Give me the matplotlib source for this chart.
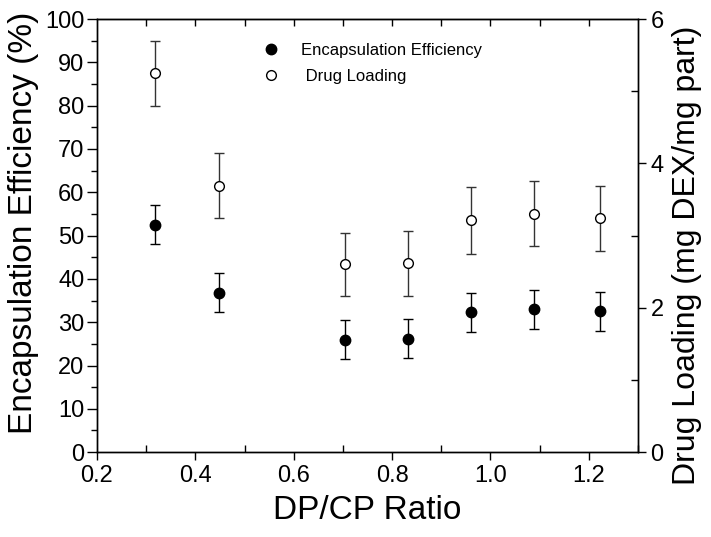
import numpy as np
import matplotlib
matplotlib.use('Agg')
import matplotlib.pyplot as plt
from matplotlib.lines import Line2D
from matplotlib.ticker import MultipleLocator

plt.rcParams['font.family'] = ['Liberation Sans', 'DejaVu Sans']

# datos
ratio = [0.318, 0.449, 0.704, 0.832, 0.961, 1.089, 1.222]
ee = [52.5, 36.8, 26.0, 26.2, 32.3, 33.0, 32.5]        # Encapsulation Efficiency (%)
ee_err = [4.5, 4.5, 4.5, 4.5, 4.5, 4.5, 4.5]
dl = [5.25, 3.69, 2.60, 2.62, 3.21, 3.30, 3.24]        # mg DEX/mg part
dl_err = [0.45, 0.45, 0.44, 0.45, 0.46, 0.45, 0.45]

fig = plt.figure(figsize=(7.11, 5.37), dpi=100)
ax = fig.add_axes([0.1364, 0.158, 0.761, 0.8066])
ax2 = ax.twinx()

ax.errorbar(ratio, ee, yerr=ee_err, fmt='o', color='black', ms=7.5,
            ecolor='black', elinewidth=1.0, capsize=3.5, capthick=1.0, zorder=3)
ax2.errorbar(ratio, dl, yerr=dl_err, fmt='o', mfc='white', mec='black', mew=1.0, ms=7,
             ecolor='#333333', elinewidth=1.0, capsize=3.5, capthick=1.0, zorder=3)

ax.set_xlim(0.2, 1.3)
ax.set_ylim(0, 100)
ax2.set_ylim(0, 6)

ax.xaxis.set_major_locator(MultipleLocator(0.2))
ax.xaxis.set_minor_locator(MultipleLocator(0.1))
ax.yaxis.set_major_locator(MultipleLocator(10))
ax.yaxis.set_minor_locator(MultipleLocator(5))
ax2.yaxis.set_major_locator(MultipleLocator(2))
ax2.yaxis.set_minor_locator(MultipleLocator(1))
ax.xaxis.set_major_formatter(plt.FormatStrFormatter('%.1f'))

ax.tick_params(axis='x', which='major', direction='out', length=6, width=1, labelsize=17, pad=3)
ax.tick_params(axis='x', which='minor', direction='in', length=5, width=1)
ax.tick_params(axis='y', which='major', direction='out', length=7, width=1, labelsize=17, pad=2)
ax.tick_params(axis='y', which='minor', direction='out', length=4, width=1)
ax2.tick_params(axis='y', which='major', direction='out', length=6, width=1, labelsize=17, pad=3)
ax2.tick_params(axis='y', which='minor', direction='in', length=5, width=1)

top = ax.secondary_xaxis('top')
top.set_xticks(np.arange(0.3, 1.25, 0.1))
top.tick_params(direction='in', length=5, width=1, labeltop=False)
top.xaxis.set_minor_locator(plt.NullLocator())

for a in (ax, ax2):
    for s in a.spines.values():
        s.set_linewidth(1.0)

ax.set_xlabel('DP/CP Ratio', fontsize=24, labelpad=6)
ax.set_ylabel('Encapsulation Efficiency (%)', fontsize=24)
ax.yaxis.set_label_coords(-0.108, 0.53)
ax2.set_ylabel('Drug Loading (mg DEX/mg part)', fontsize=23)
ax2.yaxis.set_label_coords(1.063, 0.455)

handles = [Line2D([], [], ls='none', marker='o', color='black', ms=7.5),
           Line2D([], [], ls='none', marker='o', mfc='white', mec='black', mew=1.0, ms=7)]
ax2.legend(handles, ['Encapsulation Efficiency', ' Drug Loading'], loc='upper left',
           bbox_to_anchor=(0.27, 0.98), frameon=False, fontsize=12,
           handletextpad=1.1, labelspacing=0.65, handlelength=1.5)

plt.savefig('out.png', dpi=100)
